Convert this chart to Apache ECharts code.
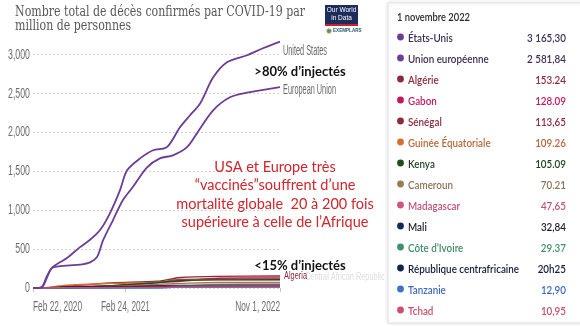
<!DOCTYPE html>
<html>
<head>
<meta charset="utf-8">
<script src="https://cdn.jsdelivr.net/npm/echarts@6/dist/echarts.min.js"></script>
<style>
  html, body { margin: 0; padding: 0; background: #fff; }
  #chart { width: 580px; height: 326px; }
</style>
</head>
<body>
<div id="chart"></div>
<script>
// Cumulative confirmed COVID-19 deaths per million people
const usDates = ['2020-02-22','2020-03-15','2020-04-01','2020-04-17','2020-05-07','2020-06-08','2020-07-06','2020-08-27','2020-10-06','2020-11-15','2020-12-24','2021-02-02','2021-03-02','2021-04-23','2021-06-14','2021-08-08','2021-09-29','2021-11-08','2021-12-18','2022-02-07','2022-04-04','2022-06-23','2022-08-25','2022-11-01'];
const usValues = [0, 0, 20, 130, 260, 330, 385, 525, 620, 745, 960, 1255, 1510, 1665, 1770, 1810, 2065, 2220, 2370, 2700, 2900, 2990, 3080, 3165.30];

const euDates = ['2020-02-22','2020-03-15','2020-04-01','2020-04-17','2020-05-07','2020-05-27','2020-07-18','2020-08-27','2020-10-06','2020-11-03','2020-11-27','2021-01-05','2021-02-14','2021-03-26','2021-05-21','2021-07-11','2021-09-01','2021-10-27','2021-12-06','2022-02-07','2022-04-16','2022-06-23','2022-11-01'];
const euValues = [0, 0, 30, 150, 255, 275, 290, 300, 330, 400, 615, 870, 1130, 1300, 1550, 1665, 1705, 1810, 1990, 2280, 2450, 2510, 2581.84];

const africaDates = ['2020-02-22','2020-04-01','2020-07-01','2021-01-01','2021-07-01','2021-10-01','2022-03-01','2022-11-01'];
const algeria      = [0, 1,   23,  66,  86, 134, 150, 153.24];
const gabon        = [0, 0.5, 17,  30,  72,  87, 126, 128.09];
const senegal      = [0, 0,    5,  24,  71, 110, 113, 113.65];
const eqGuinea     = [0, 0,   35,  59,  75, 100, 108, 109.26];
const kenya        = [0, 0,    2,  31,  68,  96, 104, 105.09];
const cameroon     = [0, 0.5, 11,  17,  49,  59,  70,  70.21];
const madagascar   = [0, 0,    1,   9,  34,  35,  47,  47.65];
const mali         = [0, 0,    6,  14,  26,  28,  32,  32.84];
const coteIvoire   = [0, 0,    4,   5,  12,  26,  29,  29.37];
const centrafrique = [0, 0,   12,  13,  20,  20,  20,  20.25];
const tanzania     = [0, 0,  0.4, 0.4, 0.8,  12,  13,  12.90];
const chad         = [0, 0,  4.5,   6,  10, 10.7, 11,  10.95];

// Side table: 1 November 2022
const tableNames  = ['États-Unis','Union européenne','Algérie','Gabon','Sénégal','Guinée Équatoriale','Kenya','Cameroun','Madagascar','Mali','Côte d\u2019Ivoire','République centrafricaine','Tanzanie','Tchad'];
const tableValues = ['3 165,30','2 581,84','153.24','128.09','113,65','109.26','105.09','70.21','47,65','32,84','29.37','20h25','12,90','10,95'];
const tableDots   = ['#6b3d95','#6b3d95','#8c2a3c','#c8145e','#8c2a3c','#d0702e','#1f4d1f','#9c7b52','#cf5480','#15295a','#3f8f6c','#122451','#3d72c8','#cc4f6c'];
const tableText   = ['#3d2f55','#3d2f55','#8c2a3c','#c01c5c','#8c2a3c','#b9673a','#1f3f1f','#8d7457','#c3507a','#1c1c2c','#3f8f6c','#141e38','#3d6bb8','#c3506a'];

// Axis ticks
const xTickDates  = ['2020-02-22','2021-02-24','2022-11-01'];
const xTickLabels = ['Feb 22, 2020','Feb 24, 2021','Nov 1, 2022'];
const yTicks = [0, 500, 1000, 1500, 2000, 2500, 3000];

const PURPLE = '#6b3d95';
const SANS = "'Liberation Sans', Arial, sans-serif";
const ts = s => new Date(s + 'T00:00:00').getTime();
const pairs = (dates, vals) => dates.map((d, i) => [ts(d), vals[i]]);
const xTickTs = xTickDates.map(ts);

const africa = [
  ['Algeria', algeria, tableDots[2]],
  ['Gabon', gabon, tableDots[3]],
  ['Senegal', senegal, tableDots[4]],
  ['Equatorial Guinea', eqGuinea, tableDots[5]],
  ['Kenya', kenya, tableDots[6]],
  ['Cameroon', cameroon, tableDots[7]],
  ['Madagascar', madagascar, tableDots[8]],
  ['Mali', mali, tableDots[9]],
  ["Cote d'Ivoire", coteIvoire, tableDots[10]],
  ['Central African Republic', centrafrique, tableDots[11]],
  ['Tanzania', tanzania, tableDots[12]],
  ['Chad', chad, tableDots[13]]
];

// measure helper: horizontal scale that fits a string into a width
const mctx = document.createElement('canvas').getContext('2d');
function fitScale(text, font, target) {
  mctx.font = font;
  return target / mctx.measureText(text).width;
}

const series = [];
africa.forEach(([name, vals, color]) => {
  series.push({
    name, type: 'line', data: pairs(africaDates, vals),
    smooth: 0.3, showSymbol: false, clip: false, silent: true,
    lineStyle: { color, width: 1.4 }, z: 2
  });
});
series.push({
  name: 'United States', type: 'line', data: pairs(usDates, usValues),
  smooth: 0.3, showSymbol: false, clip: false, silent: true,
  lineStyle: { color: PURPLE, width: 1.8 }, z: 3
});
series.push({
  name: 'European Union', type: 'line', data: pairs(euDates, euValues),
  smooth: 0.3, showSymbol: false, clip: false, silent: true,
  lineStyle: { color: PURPLE, width: 1.8 }, z: 3
});

const chart = echarts.init(document.getElementById('chart'), null, { renderer: 'canvas' });
chart.setOption({
  animation: false,
  backgroundColor: '#fff',
  grid: { left: 33, right: 300, top: 54.5, bottom: 38, containLabel: false },
  xAxis: {
    type: 'value',
    min: xTickTs[0],
    max: xTickTs[2],
    axisLine: { show: false },
    axisTick: { show: true, length: 4, lineStyle: { color: '#c4c4c4' }, customValues: xTickTs },
    splitLine: { show: false },
    axisLabel: { show: false }
  },
  yAxis: {
    type: 'value', min: 0, max: 3000, interval: 500,
    axisLine: { show: false }, axisTick: { show: false },
    splitLine: { lineStyle: { color: '#d6d6d6', type: [2, 2], width: 1 } },
    axisLabel: { show: false }
  },
  series
});

// Overlay text: condensed axis labels, line labels, title, notes, side table
const px = (x, y) => chart.convertToPixel({ gridIndex: 0 }, [x, y]);
const graphics = [];

const axFont = `15px ${SANS}`;
const ySc = fitScale('3,000', axFont, 22);
yTicks.forEach(v => {
  const p = px(xTickTs[0], v);
  graphics.push({ type: 'text', x: 30, y: p[1], scaleX: ySc, style: { text: v.toLocaleString('en-US'), font: axFont, fill: '#6e6e6e', align: 'right', verticalAlign: 'middle' } });
});
const xSc = fitScale(xTickLabels[0], axFont, 49);
xTickTs.forEach((t, i) => {
  const p = px(t, 0);
  const align = i === 0 ? 'left' : (i === xTickTs.length - 1 ? 'right' : 'center');
  graphics.push({ type: 'text', x: p[0], y: 307, scaleX: xSc, style: { text: xTickLabels[i], font: axFont, fill: '#6e6e6e', align, verticalAlign: 'middle' } });
});

// end-of-line labels
const lblFont = `14px ${SANS}`;
const lSc = fitScale('United States', lblFont, 44);
const usEnd = px(ts(usDates[usDates.length - 1]), usValues[usValues.length - 1]);
const euEnd = px(ts(euDates[euDates.length - 1]), euValues[euValues.length - 1]);
graphics.push({ type: 'text', x: usEnd[0] + 3, y: usEnd[1] + 10, scaleX: lSc, style: { text: 'United States', font: lblFont, fill: '#6a6a6a', verticalAlign: 'middle' } });
graphics.push({ type: 'text', x: euEnd[0] + 3, y: euEnd[1] + 3, scaleX: lSc, style: { text: 'European Union', font: lblFont, fill: '#6a6a6a', verticalAlign: 'middle' } });
const dzEnd = px(ts(africaDates[africaDates.length - 1]), algeria[algeria.length - 1]);
const smFont = `11px ${SANS}`;
const sSc = fitScale('Algeria', smFont, 23);
graphics.push({ type: 'text', x: dzEnd[0] + 25, y: dzEnd[1] + 1, scaleX: sSc, style: { text: 'Central African Republic', font: smFont, fill: 'rgba(170,170,170,0.4)', verticalAlign: 'middle' } });
graphics.push({ type: 'text', x: dzEnd[0] + 4, y: dzEnd[1], scaleX: sSc, style: { text: 'Algeria', font: smFont, fill: '#8c2a3c', verticalAlign: 'middle' } });

// title
const titleFont = "15px 'DejaVu Serif', 'Liberation Serif', serif";
const title1 = 'Nombre total de décès confirmés par COVID-19 par';
const title2 = 'million de personnes';
const tSc = fitScale(title1, titleFont, 290);
graphics.push({ type: 'text', x: 15, y: 5, scaleX: tSc, style: { text: title1, font: titleFont, fill: '#585858' } });
graphics.push({ type: 'text', x: 15, y: 19, scaleX: tSc, style: { text: title2, font: titleFont, fill: '#585858' } });

// logo
graphics.push(
  { type: 'rect', shape: { x: 325, y: 5, width: 33, height: 20 }, style: { fill: '#1c2d5c' } },
  { type: 'rect', shape: { x: 325, y: 24, width: 33, height: 2 }, style: { fill: '#c8202e' } },
  { type: 'text', x: 341.5, y: 10, style: { text: 'Our World', font: `6.5px ${SANS}`, fill: '#fff', align: 'center', verticalAlign: 'middle' } },
  { type: 'text', x: 341.5, y: 18, style: { text: 'in Data', font: `6.5px ${SANS}`, fill: '#fff', align: 'center', verticalAlign: 'middle' } },
  { type: 'circle', shape: { cx: 329, cy: 31, r: 2.3 }, style: { fill: '#3a9a8a', stroke: '#e0a040', lineWidth: 0.8 } },
  { type: 'text', x: 333, y: 31, style: { text: 'EXEMPLARS', font: `bold 4.6px ${SANS}`, fill: '#2a5a6a', verticalAlign: 'middle' } }
);

// notes
graphics.push(
  { type: 'text', x: 300, y: 72, style: { text: '>80% d\u2019injectés', font: "bold 13px Lato, 'Open Sans', sans-serif", fill: '#111', align: 'center', verticalAlign: 'middle' } },
  { type: 'text', x: 300, y: 266, style: { text: '<15% d\u2019injectés', font: "bold 13px Lato, 'Open Sans', sans-serif", fill: '#111', align: 'center', verticalAlign: 'middle' } }
);
const redLines = ['USA et Europe très', '\u201Cvaccinés\u201Dsouffrent d\u2019une', 'mortalité globale  20 à 200 fois', 'supérieure à celle de l\u2019Afrique'];
redLines.forEach((line, i) => {
  graphics.push({ type: 'text', x: 275, y: 167 + i * 18.5, style: { text: line, font: "14.5px Lato, 'Open Sans', sans-serif", fill: '#d3252b', align: 'center', verticalAlign: 'middle' } });
});

// side table
const tblFont = "600 12px Lato, sans-serif";
const nSc = fitScale('République centrafricaine', tblFont, 111);
const hSc = fitScale('1 novembre 2022', tblFont, 73);
graphics.push({ type: 'rect', z: 10, shape: { x: 388, y: 3, width: 200, height: 320 }, style: { fill: '#fff', stroke: '#e4e4e4', lineWidth: 1, shadowBlur: 4, shadowColor: 'rgba(0,0,0,0.12)' } });
graphics.push({ type: 'text', x: 397, y: 17, z: 11, scaleX: hSc, style: { text: '1 novembre 2022', font: tblFont, fill: '#2b2b2b', verticalAlign: 'middle' } });
tableNames.forEach((name, i) => {
  const y = 38 + i * 21;
  graphics.push({ type: 'circle', z: 11, shape: { cx: 400.5, cy: y - 1, r: 3.4 }, style: { fill: tableDots[i] } });
  graphics.push({ type: 'text', x: 408, y, z: 11, scaleX: nSc, style: { text: name, font: tblFont, fill: tableText[i], verticalAlign: 'middle' } });
  graphics.push({ type: 'text', x: 566, y, z: 11, scaleX: nSc, style: { text: tableValues[i], font: tblFont, fill: tableText[i], align: 'right', verticalAlign: 'middle' } });
});

chart.setOption({ graphic: graphics });
</script>
</body>
</html>
